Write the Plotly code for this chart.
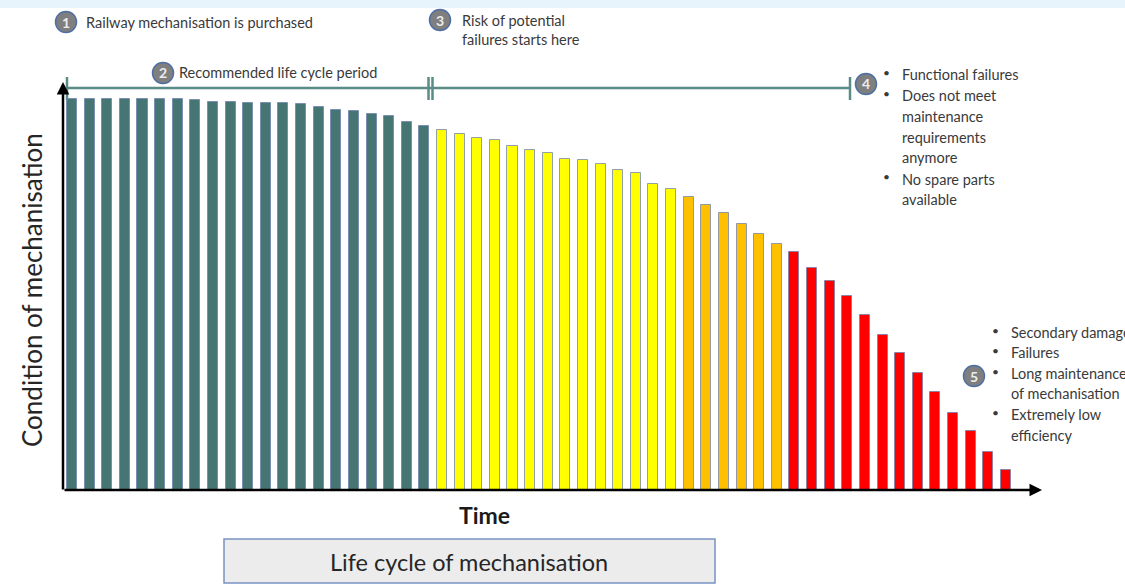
import plotly.graph_objects as go

# ---------------- data ----------------
condition = [100, 100, 100, 100, 100, 100, 100, 99.7, 99.3, 99.3, 99.1, 99.1,
             98.9, 98.6, 98.0, 97.3, 96.9, 96.2, 95.6, 94.0, 93.2,
             92.1, 91.0, 90.0, 89.4, 87.9, 87.0, 86.1, 84.6, 84.3, 83.4, 81.8,
             81.0, 78.2, 77.0,
             74.9, 72.8, 70.8, 68.0, 65.6, 62.8,
             60.8, 56.9, 53.5, 49.6, 44.8, 39.7, 35.0, 29.8, 25.1, 19.8, 15.0, 9.8, 5.0]
phase_names = ["recommended", "risk", "functional_failures", "critical"]
phase_counts = [21, 14, 6, 13]
phase_colors = ["#467674", "#ffff00", "#ffc000", "#ff0000"]

W, H = 1125, 588


def PX(x):
    return x / W


def PY(y):
    return 1 - y / H


fig = go.Figure()
start = 0
for name, n, col in zip(phase_names, phase_counts, phase_colors):
    xs = list(range(start + 1, start + n + 1))
    ys = condition[start:start + n]
    fig.add_trace(go.Bar(x=xs, y=ys, name=name, width=0.57, hoverinfo="skip",
                         marker=dict(color=col, line=dict(color="rgba(110,130,175,0.75)", width=1))))
    start += n

# map data -> pixels: bar k centre at 72 + (k-1)*17.62 px ; value v at 490 - 3.91 v px
step = 17.62
x_lo = 1 - 72 / step
x_hi = 1 + (W - 72) / step
y_lo = -(H - 490) / 3.91
y_hi = 490 / 3.91

fig.update_layout(
    width=W, height=H,
    margin=dict(l=0, r=0, t=0, b=0),
    paper_bgcolor="white", plot_bgcolor="rgba(0,0,0,0)",
    showlegend=False, bargap=0,
    xaxis=dict(range=[x_lo, x_hi], visible=False, domain=[0, 1]),
    yaxis=dict(range=[y_lo, y_hi], visible=False, domain=[0, 1]),
    font=dict(family="Lato, Open Sans, sans-serif", color="#3a3a3a"),
)

shapes = []
annots = []

# light blue strip at the top
shapes.append(dict(type="rect", xref="paper", yref="paper", x0=0, x1=1, y0=PY(8), y1=1,
                   fillcolor="#e8f4fb", line=dict(width=0), layer="below"))

# axes with arrows
annots.append(dict(xref="paper", yref="paper", x=PX(1042), y=PY(490), ax=-979, ay=0,
                   showarrow=True, arrowhead=2, arrowsize=1, arrowwidth=2.5, arrowcolor="black", text=""))
annots.append(dict(xref="paper", yref="paper", x=PX(63), y=PY(82), ax=0, ay=409,
                   showarrow=True, arrowhead=2, arrowsize=1, arrowwidth=2.5, arrowcolor="black", text=""))

# life-cycle line with ticks
teal = "#5a8c87"
shapes.append(dict(type="line", xref="paper", yref="paper", x0=PX(66), x1=PX(850), y0=PY(88), y1=PY(88),
                   line=dict(color=teal, width=2.5)))
for xx in (67, 428.5, 432.5, 850):
    shapes.append(dict(type="line", xref="paper", yref="paper", x0=PX(xx), x1=PX(xx), y0=PY(77), y1=PY(100),
                       line=dict(color=teal, width=2.5)))

# numbered circles
circles = [(66, 22, "1"), (163, 73, "2"), (440, 20, "3"), (866, 84, "4"), (974, 376, "5")]
r = 10.5
for cx, cy, t in circles:
    shapes.append(dict(type="circle", xref="paper", yref="paper",
                       x0=PX(cx - r), x1=PX(cx + r), y0=PY(cy + r), y1=PY(cy - r),
                       fillcolor="#7f7f7f", line=dict(color="#4f6fa3", width=1.5)))
    annots.append(dict(xref="paper", yref="paper", x=PX(cx), y=PY(cy), text="<b>" + t + "</b>",
                       showarrow=False, xanchor="center", yanchor="middle",
                       font=dict(size=14, color="#ececec")))

fs = 14.5


def label(x, y, text, size=fs):
    annots.append(dict(xref="paper", yref="paper", x=PX(x), y=PY(y), text=text, showarrow=False,
                       xanchor="left", yanchor="middle", font=dict(size=size, color="#3a3a3a")))


def bullet(x, y):
    annots.append(dict(xref="paper", yref="paper", x=PX(x), y=PY(y), text="•", showarrow=False,
                       xanchor="center", yanchor="middle", font=dict(size=12, color="#3a3a3a")))


label(84, 22, "Railway mechanisation is purchased")
label(177, 73, "Recommended life cycle period")
label(460, 20, "Risk of potential")
label(460, 39, "failures starts here")

lines4 = [(75, True, "Functional failures"), (95, True, "Does not meet"), (116, False, "maintenance"),
          (137, False, "requirements"), (158, False, "anymore"), (179, True, "No spare parts"),
          (200, False, "available")]
for y, b, t in lines4:
    if b:
        bullet(887, y - 2)
    label(900, y, t)

lines5 = [(332, True, "Secondary damage"), (352, True, "Failures"), (373, True, "Long maintenance"),
          (393, False, "of mechanisation"), (414, True, "Extremely low"), (435, False, "efficiency")]
for y, b, t in lines5:
    if b:
        bullet(995, y - 2)
    label(1009, y, t)

# axis titles
annots.append(dict(xref="paper", yref="paper", x=PX(32), y=PY(290), text="Condition of mechanisation",
                   textangle=-90, showarrow=False, xanchor="center", yanchor="middle",
                   font=dict(size=26, color="#262626")))
annots.append(dict(xref="paper", yref="paper", x=PX(484), y=PY(515), text="<b>Time</b>",
                   showarrow=False, xanchor="center", yanchor="middle",
                   font=dict(size=23, color="#1a1a1a")))

# bottom box
shapes.append(dict(type="rect", xref="paper", yref="paper", x0=PX(224), x1=PX(715), y0=PY(583), y1=PY(539),
                   fillcolor="#ececec", line=dict(color="#7892c2", width=1.5)))
annots.append(dict(xref="paper", yref="paper", x=PX(469), y=PY(562), text="Life cycle of mechanisation",
                   showarrow=False, xanchor="center", yanchor="middle",
                   font=dict(size=23.5, color="#262626")))

fig.update_layout(shapes=shapes, annotations=annots)
fig.write_html("out.html", config={"displayModeBar": False},
               post_script="document.body.style.margin='0';")
